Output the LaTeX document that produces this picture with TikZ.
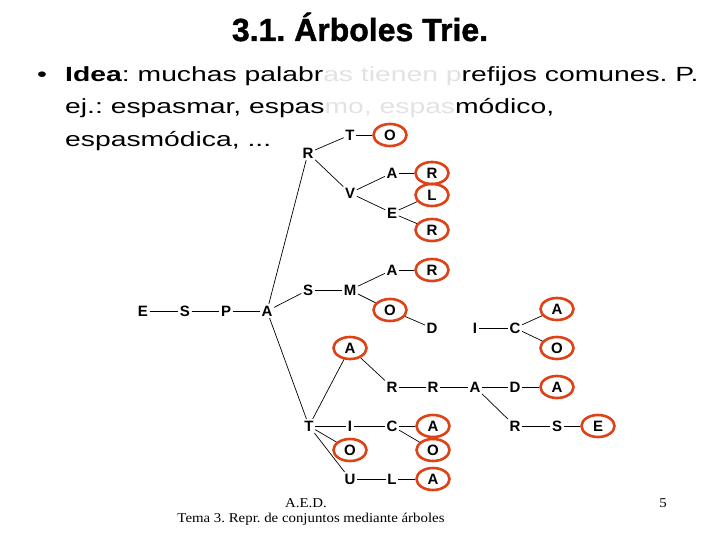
\documentclass[tikz,border=0pt]{standalone}
\usepackage{fontspec}
\setmainfont{Liberation Sans}
\newfontfamily\titulofont[BoldFeatures={FakeBold=1.3}]{Liberation Sans}
\newfontfamily\textofont[FakeStretch=1.38]{Liberation Sans}
\newfontfamily\piefont[FakeStretch=1.1]{Liberation Serif}
\usetikzlibrary{shapes.geometric}
\definecolor{marca}{RGB}{222,66,22}
\definecolor{tenue}{RGB}{226,226,226}
\frenchspacing

\begin{document}
\begin{tikzpicture}[x=1pt, y=-1pt]
    \tikzset{
      letra/.style={inner sep=1.5pt, font=\fontsize{15}{15}\selectfont\bfseries, text height=10.7pt, text depth=0pt},
      fin/.style={letra, ellipse, draw=marca, line width=2.6pt, minimum width=33pt, minimum height=22pt, inner sep=0pt},
      arista/.style={line width=0.7pt},
      renglon/.style={anchor=base west, inner sep=0pt, font=\textofont\fontsize{20.5}{20.5}\selectfont},
      pie/.style={anchor=base, font=\piefont\fontsize{13.5}{13.5}\selectfont}
    }
    \useasboundingbox (0,0) rectangle (720,540);

    % cabecera y texto
    \node[anchor=base, font=\titulofont\fontsize{32}{32}\selectfont\bfseries] (titulo) at (360, 41) {3.1. Árboles Trie.};
    \node[renglon] (vineta) at (37, 82) {\textbullet};
    \node[renglon] (linea1) at (65, 82) {\textbf{Idea}: muchas palabr{\color{tenue}as tienen p}refijos comunes. P.};
    \node[renglon] (linea2) at (65, 114) {ej.: espasmar, espas{\color{tenue}mo, espas}módico,};
    \node[renglon] (linea3) at (65, 147) {espasmódica, ...};

    % prefijo comun
    \node[letra] (e) at (143, 311) {E};
    \node[letra] (es) at (185, 311) {S};
    \node[letra] (esp) at (226, 311) {P};
    \node[letra] (espa) at (267, 311) {A};

    % rama R
    \node[letra] (espar) at (308, 153) {R};
    \node[letra] (espart) at (350, 135) {T};
    \node[fin] (esparto) at (390, 135) {O};
    \node[letra] (esparv) at (350, 193) {V};
    \node[letra] (esparva) at (392, 173) {A};
    \node[fin] (esparvar) at (432, 173) {R};
    \node[letra] (esparve) at (392, 213) {E};
    \node[fin] (esparvel) at (432, 195) {L};
    \node[fin] (esparver) at (432, 230) {R};

    % rama S
    \node[letra] (espas) at (308, 290) {S};
    \node[letra] (espasm) at (350, 290) {M};
    \node[letra] (espasma) at (392, 270) {A};
    \node[fin] (espasmar) at (432, 270) {R};
    \node[fin] (espasmo) at (390, 310) {O};
    \node[letra] (espasmod) at (432, 328) {D};
    \node[letra] (espasmodi) at (475, 328) {I};
    \node[letra] (espasmodic) at (515, 328) {C};
    \node[fin] (espasmodica) at (557, 309) {A};
    \node[fin] (espasmodico) at (557, 348) {O};

    % rama T
    \node[letra] (espat) at (309, 426) {T};
    \node[fin] (espata) at (350, 348) {A};
    \node[letra] (espatar) at (392, 387) {R};
    \node[letra] (espatarr) at (433, 387) {R};
    \node[letra] (espatarra) at (475, 387) {A};
    \node[letra] (espatarrad) at (515, 387) {D};
    \node[fin] (espatarrada) at (557, 387) {A};
    \node[letra] (espatarrar) at (515, 426) {R};
    \node[letra] (espatarrars) at (557, 426) {S};
    \node[fin] (espatarrarse) at (598, 426) {E};
    \node[letra] (espati) at (350, 426) {I};
    \node[letra] (espatic) at (392, 426) {C};
    \node[fin] (espatica) at (433, 426) {A};
    \node[fin] (espatico) at (433, 450) {O};
    \node[fin] (espato) at (350, 450) {O};
    \node[letra] (espatu) at (350, 479) {U};
    \node[letra] (espatul) at (392, 479) {L};
    \node[fin] (espatula) at (433, 479) {A};

    % pie
    \node[pie] (asignatura) at (306, 507) {A.E.D.};
    \node[pie] (tema) at (311, 522) {Tema 3. Repr. de conjuntos mediante árboles};
    \node[pie] (pagina) at (663, 507) {5};

    \draw[arista] (e) -- (es);
    \draw[arista] (es) -- (esp);
    \draw[arista] (esp) -- (espa);
    \draw[arista] (espa) -- (espar);
    \draw[arista] (espa) -- (espas);
    \draw[arista] (espa) -- (espat);

    \draw[arista] (espar) -- (espart);
    \draw[arista] (espart) -- (esparto);
    \draw[arista] (espar) -- (esparv);
    \draw[arista] (esparv) -- (esparva);
    \draw[arista] (esparva) -- (esparvar);
    \draw[arista] (esparv) -- (esparve);
    \draw[arista] (esparve) -- (esparvel);
    \draw[arista] (esparve) -- (esparver);

    \draw[arista] (espas) -- (espasm);
    \draw[arista] (espasm) -- (espasma);
    \draw[arista] (espasma) -- (espasmar);
    \draw[arista] (espasm) -- (espasmo);
    \draw[arista] (espasmo) -- (espasmod);
    \draw[arista] (espasmodi) -- (espasmodic);
    \draw[arista] (espasmodic) -- (espasmodica);
    \draw[arista] (espasmodic) -- (espasmodico);

    \draw[arista] (espat) -- (espata);
    \draw[arista] (espata) -- (espatar);
    \draw[arista] (espatar) -- (espatarr);
    \draw[arista] (espatarr) -- (espatarra);
    \draw[arista] (espatarra) -- (espatarrad);
    \draw[arista] (espatarrad) -- (espatarrada);
    \draw[arista] (espatarra) -- (espatarrar);
    \draw[arista] (espatarrar) -- (espatarrars);
    \draw[arista] (espatarrars) -- (espatarrarse);
    \draw[arista] (espat) -- (espati);
    \draw[arista] (espati) -- (espatic);
    \draw[arista] (espatic) -- (espatica);
    \draw[arista] (espatic) -- (espatico);
    \draw[arista] (espat) -- (espato);
    \draw[arista] (espat) -- (espatu);
    \draw[arista] (espatu) -- (espatul);
    \draw[arista] (espatul) -- (espatula);
  \end{tikzpicture}
\end{document}
